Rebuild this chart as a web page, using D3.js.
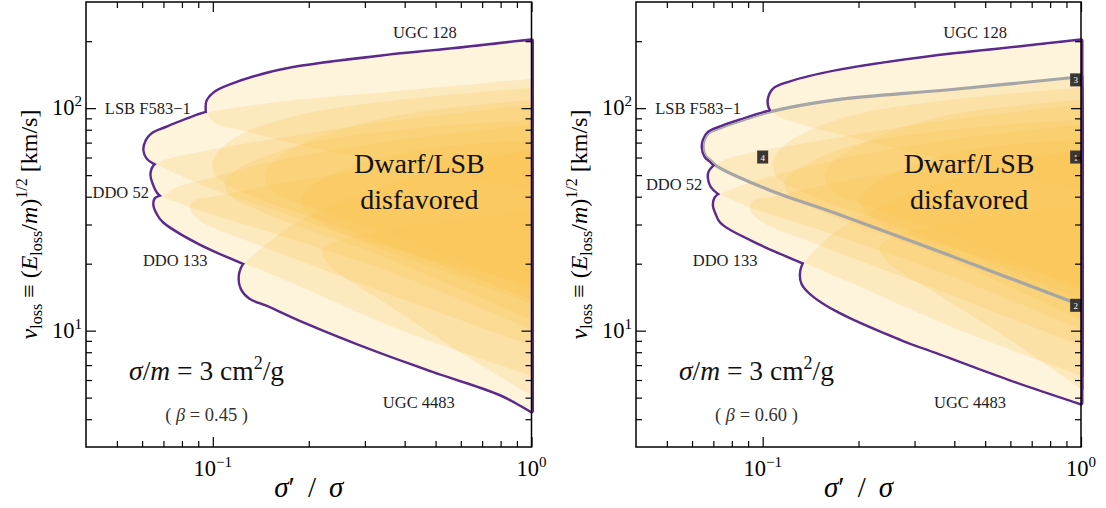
<!DOCTYPE html>
<html>
<head>
<meta charset="utf-8">
<script src="https://cdn.jsdelivr.net/npm/d3@7"></script>
<style>
  body { margin: 0; background: #fff; }
  text { font-family: "Liberation Serif", "DejaVu Serif", serif; }
</style>
</head>
<body>
<div id="chart"></div>
<script>
// axes
const xDomain = [0.04, 1];
const yDomain = [3, 300];
const xMajor = [0.1, 1];
const xMajorExp = ["\u22121", "0"];
const xMinor = [0.05, 0.06, 0.07, 0.08, 0.09, 0.2, 0.3, 0.4, 0.5, 0.6, 0.7, 0.8, 0.9];
const yMajor = [10, 100];
const yMajorExp = ["1", "2"];
const yMinor = [4, 5, 6, 7, 8, 9, 20, 30, 40, 50, 60, 70, 80, 90, 200];

// galaxy contours, beta = 0.45  ([sigma'/sigma, v_loss])
const ugc128L = [[1,201],[0.555,183],[0.334,170],[0.162,147],[0.113,126],[0.1015,117],[0.0965,108],[0.0958,100.3],[0.0965,93.3],[0.1022,85.0],[0.1216,79.8],[0.188,68.3],[0.386,55.5],[1,42.8]];
const f583L = [[1,135.6],[0.386,119.7],[0.162,106.8],[0.0958,95.2],[0.0829,88.6],[0.0717,81.5],[0.0648,76.6],[0.0621,71.2],[0.0611,64.9],[0.0625,59.7],[0.0667,56.1],[0.0979,43.7],[0.162,34.1],[0.386,21.8],[1,13.2]];
const ddo52aL = [[1,103.5],[0.386,88.6],[0.162,73.5],[0.091,63.5],[0.0707,58.5],[0.0657,54.9],[0.0643,50.5],[0.0653,46.0],[0.0682,41.1],[0.0817,36.6],[0.162,26.8],[0.386,17.7],[1,10.1]];
const ddo52bL = [[1,84.1],[0.386,71.9],[0.162,58.5],[0.0979,48.5],[0.0760,43.7],[0.0704,40.6],[0.0662,39.0],[0.0657,36.6],[0.0672,33.7],[0.0702,31.0],[0.091,24.7],[0.126,20.1],[0.188,15.8],[0.386,10.1],[1,6.27]];
const ddo133L = [[1,64.9],[0.386,47.5],[0.188,31.3],[0.1457,24.2],[0.1288,20.7],[0.1234,19.0],[0.1216,17.2],[0.1234,15.5],[0.1307,14.1],[0.1478,13.1],[0.188,11.2],[0.3045,8.47],[0.4905,6.61],[0.7963,5.20],[1,4.36]];
const ugc4483L = [[1,34.8],[0.4466,29.8],[0.2504,25.5],[0.2199,23.0],[0.2330,19.6],[0.334,13.8],[0.555,8.56],[1,5.09]];
const innerAL = [[1,123.5],[0.386,109],[0.188,93.3],[0.1216,75.8],[0.1037,63.5],[0.0996,55.5],[0.1037,48.5],[0.1307,40.6],[0.2692,28.2],[1,13.8]];
const innerBL = [[1,88.6],[0.386,79.8],[0.188,68.3],[0.126,55.5],[0.1115,49.0],[0.1091,45.1],[0.1131,40.6],[0.1510,33.0],[0.334,21.8],[1,11.2]];
const innerCL = [[1,109],[0.386,93.3],[0.2016,71.9],[0.1565,58.5],[0.1457,50.0],[0.1532,42.8],[0.2168,34.8],[0.4466,24.2],[1,15.1]];
const innerDL = [[1,64.9],[0.386,55.5],[0.188,47.5],[0.1052,40.6],[0.0866,38.2],[0.0847,35.5],[0.091,31.3],[0.1405,24.2],[0.334,15.1],[1,8.56]];
const innerEL = [[1,71.9],[0.4466,64.9],[0.2330,50.0],[0.188,38.6],[0.2168,30.7],[0.386,23.0],[1,16.0]];

// galaxy contours, beta = 0.60
const ugc128R = [[1,201],[0.555,183],[0.334,169],[0.1695,146],[0.1216,130],[0.1083,121],[0.1048,110],[0.1052,101.4],[0.1099,93.3],[0.1307,85.0],[0.2168,70.5],[0.4466,55.5],[1,42.8]];
const f583R = [[1,138.4],[0.386,121],[0.1695,109],[0.1048,96.2],[0.0847,87.6],[0.0733,81.5],[0.0677,77.4],[0.0655,71.9],[0.0650,66.2],[0.0662,60.9],[0.0689,57.8],[0.0717,54.9],[0.1052,42.8],[0.1695,33.7],[0.386,21.8],[1,13.0]];
const ddo52aR = [[1,103.5],[0.386,88.6],[0.1695,73.5],[0.0944,63.5],[0.0760,58.5],[0.0702,54.4],[0.0682,51.6],[0.0679,48.5],[0.0692,44.6],[0.0730,41.5],[0.0878,36.6],[0.1695,26.8],[0.386,17.7],[1,10.1]];
const ddo52bR = [[1,84.1],[0.386,71.9],[0.1695,58.5],[0.1015,48.5],[0.0817,43.7],[0.0738,41.1],[0.0712,39.4],[0.0704,36.6],[0.0717,33.7],[0.0743,30.7],[0.0934,25.5],[0.1340,20.3],[0.188,16.5],[0.386,10.5],[1,6.27]];
const ddo133R = [[1,64.9],[0.386,47.5],[0.188,30.7],[0.151,24.2],[0.1384,21.1],[0.1336,19.4],[0.1321,17.9],[0.1336,16.3],[0.1420,14.7],[0.1701,12.4],[0.2761,9.11],[0.3505,8.04],[0.5964,6.07],[1,4.73]];
const ugc4483R = [[1,36.6],[0.4466,31.3],[0.2597,26.5],[0.2330,23.7],[0.2469,20.3],[0.3595,14.4],[0.5964,9.11],[1,5.47]];
const innerAR = [[1,123.5],[0.386,109],[0.188,92.3],[0.1307,75.8],[0.1115,63.5],[0.1075,55.5],[0.1115,48.5],[0.1405,40.6],[0.2893,28.2],[1,13.8]];
const innerBR = [[1,88.6],[0.386,79.8],[0.188,67.6],[0.1355,55.5],[0.1198,49.0],[0.1172,45.1],[0.1216,40.6],[0.1623,33.0],[0.3595,21.8],[1,11.2]];
const innerCR = [[1,109],[0.386,93.3],[0.2168,71.9],[0.1683,58.5],[0.1565,50.0],[0.1646,42.8],[0.2330,34.8],[0.4800,24.2],[1,15.1]];
const innerDR = [[1,64.9],[0.386,55.5],[0.188,47.5],[0.1131,40.6],[0.0930,38.2],[0.091,35.5],[0.0979,31.3],[0.151,24.2],[0.3595,15.1],[1,8.56]];
const innerER = [[1,71.9],[0.4466,64.9],[0.2504,50.0],[0.2016,38.6],[0.2330,30.7],[0.4154,23.0],[1,16.0]];

// benchmark points (right panel)
const benchPoints = [[0.962, 60.3, "1"], [0.962, 13.0, "2"], [0.962, 134, "3"], [0.1, 60.3, "4"]];

// galaxy name labels [x, v, text]
const namesL = [[0.463, 207, "UGC 128"], [0.0625, 94.3, "LSB F583\u22121"], [0.0514, 39.4, "DDO 52"], [0.0762, 19.6, "DDO 133"], [0.443, 4.5, "UGC 4483"]];
const namesR = [[0.465, 207, "UGC 128"], [0.0627, 94.3, "LSB F583\u22121"], [0.0527, 42.8, "DDO 52"], [0.0762, 19.6, "DDO 133"], [0.448, 4.5, "UGC 4483"]];

const W = 1106, H = 508;
const top0 = 2, bottom0 = 447;
const purple = "#5b2a8a";
const fillCol = "#fbc24c";

const svg = d3.select("#chart").append("svg")
    .attr("width", W)
    .attr("height", H);

function drawPanel(p, idx) {
    const x = d3.scaleLog().domain(xDomain).range([p.left, p.right]);
    const y = d3.scaleLog().domain(yDomain).range([bottom0, top0]);
    const g = svg.append("g");

    const line = d3.line()
        .x(d => x(d[0]))
        .y(d => y(d[1]))
        .curve(d3.curveCatmullRom.alpha(0.5));
    const shape = d => line(d) + "Z";

    // union outline: thick strokes, then white fills hide the inner halves
    g.append("g").selectAll("path")
        .data(p.regions)
        .join("path")
        .attr("d", shape)
        .attr("fill", "none")
        .attr("stroke", purple)
        .attr("stroke-width", 5)
        .attr("stroke-linejoin", "round");

    g.append("g").selectAll("path")
        .data(p.regions)
        .join("path")
        .attr("d", shape)
        .attr("fill", "#fff");

    g.append("g").selectAll("path")
        .data(p.regions)
        .join("path")
        .attr("d", shape)
        .attr("fill", fillCol)
        .attr("fill-opacity", 0.2);

    if (p.highlight) {
        const clipId = "union" + idx;
        g.append("clipPath").attr("id", clipId)
            .selectAll("path")
            .data(p.regions)
            .join("path")
            .attr("d", shape);
        g.append("path")
            .attr("d", line(p.highlight))
            .attr("fill", "none")
            .attr("stroke", "#a6a6a6")
            .attr("stroke-width", 3.2)
            .attr("clip-path", `url(#${clipId})`);
    }

    if (p.markers) {
        const m = g.append("g").selectAll("g")
            .data(p.markers)
            .join("g")
            .attr("transform", d => `translate(${x(d[0])},${y(d[1])})`);
        m.append("rect")
            .attr("x", -5.5).attr("y", -6.5)
            .attr("width", 11).attr("height", 13)
            .attr("fill", "#3a3632");
        m.append("text")
            .attr("text-anchor", "middle")
            .attr("y", 3.5)
            .attr("font-size", 9)
            .attr("fill", "#fff")
            .text(d => d[2]);
    }

    // ticks on all four sides, pointing inwards
    const noDomain = s => s.select(".domain").remove();
    const tickStyle = s => s.selectAll(".tick line").attr("stroke", "#000").attr("stroke-width", 1.2);
    [[xMajor, 10], [xMinor, 6]].forEach(([vals, len]) => {
        g.append("g").attr("transform", `translate(0,${bottom0})`)
            .call(d3.axisBottom(x).tickValues(vals).tickSize(-len).tickFormat(""))
            .call(noDomain).call(tickStyle);
        g.append("g").attr("transform", `translate(0,${top0})`)
            .call(d3.axisTop(x).tickValues(vals).tickSize(-len).tickFormat(""))
            .call(noDomain).call(tickStyle);
    });
    [[yMajor, 10], [yMinor, 6]].forEach(([vals, len]) => {
        g.append("g").attr("transform", `translate(${p.left},0)`)
            .call(d3.axisLeft(y).tickValues(vals).tickSize(-len).tickFormat(""))
            .call(noDomain).call(tickStyle);
        g.append("g").attr("transform", `translate(${p.right},0)`)
            .call(d3.axisRight(y).tickValues(vals).tickSize(-len).tickFormat(""))
            .call(noDomain).call(tickStyle);
    });

    g.append("rect")
        .attr("x", p.left).attr("y", top0)
        .attr("width", p.right - p.left).attr("height", bottom0 - top0)
        .attr("fill", "none")
        .attr("stroke", "#000")
        .attr("stroke-width", 1.5);

    // tick labels
    xMajor.forEach((v, i) => {
        const t = g.append("text")
            .attr("x", x(v)).attr("y", 476)
            .attr("text-anchor", "middle")
            .attr("font-size", 22.5);
        t.append("tspan").text("10");
        t.append("tspan").attr("dy", -9).attr("font-size", 15).text(xMajorExp[i]);
    });
    yMajor.forEach((v, i) => {
        const t = g.append("text")
            .attr("x", p.left - 4).attr("y", y(v) + 7)
            .attr("text-anchor", "end")
            .attr("font-size", 22.5);
        t.append("tspan").text("10");
        t.append("tspan").attr("dy", -9).attr("font-size", 15).text(yMajorExp[i]);
    });

    // axis titles
    const xl = g.append("text")
        .attr("x", (p.left + p.right) / 2).attr("y", 497)
        .attr("text-anchor", "middle")
        .attr("font-size", 29);
    xl.append("tspan").attr("font-style", "italic").text("\u03c3");
    xl.append("tspan").text("\u2032 \u2009/\u2009 ");
    xl.append("tspan").attr("font-style", "italic").text("\u03c3");

    const yl = g.append("text")
        .attr("transform", `translate(${p.left - 49},${(top0 + bottom0) / 2}) rotate(-90)`)
        .attr("text-anchor", "middle")
        .attr("font-size", 24);
    yl.append("tspan").attr("font-style", "italic").text("\u03bd");
    yl.append("tspan").attr("font-size", 16).attr("dy", 5).text("loss");
    yl.append("tspan").attr("dy", -5).text(" \u2261 (");
    yl.append("tspan").attr("font-style", "italic").text("E");
    yl.append("tspan").attr("font-size", 16).attr("dy", 5).text("loss");
    yl.append("tspan").attr("dy", -5).text("/");
    yl.append("tspan").attr("font-style", "italic").text("m");
    yl.append("tspan").text(")");
    yl.append("tspan").attr("font-size", 16).attr("dy", -10).text("1/2");
    yl.append("tspan").attr("dy", 10).text(" [km/s]");

    // galaxy names
    g.append("g").selectAll("text")
        .data(p.names)
        .join("text")
        .attr("x", d => x(d[0]))
        .attr("y", d => y(d[1]))
        .attr("text-anchor", "middle")
        .attr("font-size", 16.5)
        .attr("fill", "#222")
        .text(d => d[2]);

    // main annotation
    g.append("text")
        .attr("x", x(0.445)).attr("y", y(51.1))
        .attr("text-anchor", "middle")
        .attr("font-size", 28)
        .attr("fill", "#111")
        .text("Dwarf/LSB");
    g.append("text")
        .attr("x", x(0.445)).attr("y", y(35.1))
        .attr("text-anchor", "middle")
        .attr("font-size", 28)
        .attr("fill", "#111")
        .text("disfavored");

    const sm = g.append("text")
        .attr("x", x(0.0956)).attr("y", y(6.0))
        .attr("text-anchor", "middle")
        .attr("font-size", 27.5)
        .attr("fill", "#111");
    sm.append("tspan").attr("font-style", "italic").text("\u03c3");
    sm.append("tspan").text("/");
    sm.append("tspan").attr("font-style", "italic").text("m");
    sm.append("tspan").text(" = 3 cm");
    sm.append("tspan").attr("font-size", 18).attr("dy", -11).text("2");
    sm.append("tspan").attr("dy", 11).text("/g");

    const bt = g.append("text")
        .attr("x", x(0.0956)).attr("y", y(3.93))
        .attr("text-anchor", "middle")
        .attr("font-size", 18.5)
        .attr("fill", "#333");
    bt.append("tspan").text("( ");
    bt.append("tspan").attr("font-style", "italic").text("\u03b2");
    bt.append("tspan").text(" = " + p.beta + " )");
}

drawPanel({
    left: 86, right: 531.5,
    regions: [ugc128L, f583L, ddo52aL, ddo52bL, ddo133L, ugc4483L, innerAL, innerBL, innerCL, innerDL, innerEL],
    names: namesL,
    beta: "0.45"
}, 0);

drawPanel({
    left: 636, right: 1081,
    regions: [ugc128R, f583R, ddo52aR, ddo52bR, ddo133R, ugc4483R, innerAR, innerBR, innerCR, innerDR, innerER],
    highlight: f583R,
    markers: benchPoints,
    names: namesR,
    beta: "0.60"
}, 1);
</script>
</body>
</html>
